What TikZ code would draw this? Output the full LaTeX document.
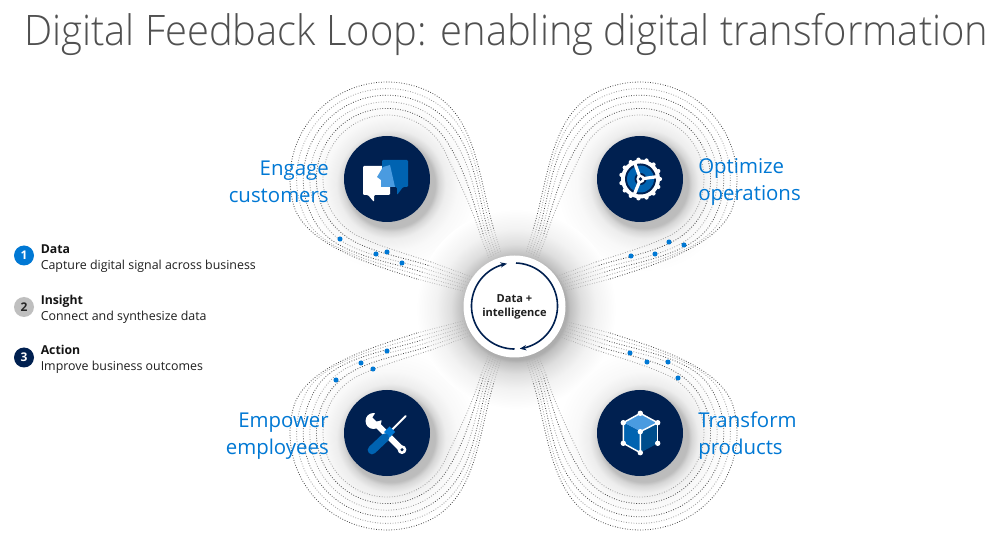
\documentclass[tikz,border=0pt]{standalone}
\usepackage{fontspec}
\setmainfont{Open Sans}
\newfontfamily\titlefont{Open Sans Light}
\usetikzlibrary{arrows.meta}
\definecolor{navy}{HTML}{002050}
\definecolor{azure}{HTML}{0078D4}
\definecolor{midblue}{HTML}{0063B1}
\definecolor{lightblue}{HTML}{4A9BE0}
\definecolor{deepblue}{HTML}{004E8C}
\definecolor{titlegray}{HTML}{505050}
\pgfdeclareradialshading{iconglow}{\pgfpoint{0bp}{0bp}}{rgb(0bp)=(.7,.7,.7);rgb(12.5bp)=(.74,.74,.74);rgb(13.6bp)=(.84,.84,.84);rgb(15.5bp)=(.93,.93,.93);rgb(19bp)=(.975,.975,.975);rgb(25bp)=(1,1,1);rgb(50bp)=(1,1,1)}
\pgfdeclareradialshading{hubglow}{\pgfpoint{0bp}{0bp}}{rgb(0bp)=(.6,.6,.6);rgb(12.75bp)=(.68,.68,.68);rgb(13.5bp)=(.75,.75,.75);rgb(16.25bp)=(.87,.87,.87);rgb(20bp)=(.95,.95,.95);rgb(25bp)=(1,1,1);rgb(50bp)=(1,1,1)}
\tikzset{
  dotdark/.style={draw=black!72,line width=.6pt,dash pattern=on .6pt off 1.3pt},
  dotlight/.style={draw=black!40,line width=.6pt,dash pattern=on .6pt off 1.3pt},
  dotfade/.style={draw=black!30,line width=.6pt,dash pattern=on .6pt off 1.2pt},
  signal/.style={circle,fill=azure,inner sep=0pt,minimum size=3.8pt},
  iconball/.style={circle,fill=navy,inner sep=0pt,minimum size=64.5pt},
  bigword/.style={text=azure,font=\fontsize{15.3pt}{20.2pt}\selectfont,inner sep=0pt},
  badge/.style={circle,inner sep=0pt,minimum size=15pt,font=\fontsize{9pt}{9pt}\selectfont\bfseries},
  legendtext/.style={anchor=west,inner sep=0pt,text=black!88,font=\fontsize{9.3pt}{10pt}\selectfont},
  legendhead/.style={anchor=west,inner sep=0pt,text=black!92,font=\fontsize{9.2pt}{10pt}\selectfont\bfseries},
}
\newcommand\bandloop{%
  \foreach \k in {0,...,5} {%
    \pgfmathsetmacro\kt{\k/5}
    \pgfmathsetmacro\rr{64+33*\kt}
    \pgfmathsetmacro\ta{115+50*\kt}
    \pgfmathsetmacro\tb{335-40*\kt}
    \pgfmathsetmacro\ax{387+\rr*cos(\ta)}
    \pgfmathsetmacro\ay{179+\rr*sin(\ta)}
    \pgfmathsetmacro\mx{431-14*\kt}
    \pgfmathsetmacro\my{262+17*\kt}
    \pgfmathsetmacro\fx{472-9*\kt}
    \pgfmathsetmacro\fy{277+14*\kt}
    \pgfmathsetmacro\la{.3*veclen(\mx-\ax,\my-\ay)}
    \pgfmathsetmacro\cax{\mx-.95*\la}
    \pgfmathsetmacro\cay{\my-.31*\la}
    \pgfmathsetmacro\cbx{\ax+sin(\ta)*\la}
    \pgfmathsetmacro\cby{\ay-cos(\ta)*\la}
    \pgfmathsetmacro\bx{387+\rr*cos(\tb)}
    \pgfmathsetmacro\by{179+\rr*sin(\tb)}
    \pgfmathsetmacro\nx{481+13*\kt}
    \pgfmathsetmacro\ny{237-7*\kt}
    \pgfmathsetmacro\gx{489+12*\kt}
    \pgfmathsetmacro\gy{258-5*\kt}
    \pgfmathsetmacro\lb{.35*veclen(\nx-\bx,\ny-\by)}
    \pgfmathsetmacro\ccx{\bx-sin(\tb)*\lb}
    \pgfmathsetmacro\ccy{\by+cos(\tb)*\lb}
    \pgfmathsetmacro\cdx{\nx-.29*\lb}
    \pgfmathsetmacro\cdy{\ny-.957*\lb}
    \pgfmathtruncatemacro\odd{mod(\k,2)}
    \ifnum\odd=1 \def\dotstyle{dotdark}\else\def\dotstyle{dotlight}\fi
    \draw[\dotstyle] (\mx,\my) .. controls (\cax,\cay) and (\cbx,\cby) .. (\ax,\ay)
      -- plot[domain=\ta:\tb,samples=50] ({387+\rr*cos(\x)},{179+\rr*sin(\x)})
      .. controls (\ccx,\ccy) and (\cdx,\cdy) .. (\nx,\ny);
    \draw[dotfade] (\fx,\fy) -- (\mx,\my);
    \draw[dotfade] (\nx,\ny) -- (\gx,\gy);
  }%
}
\begin{document}
\begin{tikzpicture}[x=.75pt,y=-.75pt]
\useasboundingbox (0,0) rectangle (1003,541);
\fill[white] (0,0) rectangle (1003,541);
% soft shadows
\shade[shading=iconglow] (391,184) circle[radius=88];
\shade[shading=iconglow] (644,184) circle[radius=88];
\shade[shading=iconglow] (391,438) circle[radius=88];
\shade[shading=iconglow] (644,438) circle[radius=88];
\shade[shading=hubglow] (516,309) circle[radius=100];
% dotted loops
\begin{scope}\bandloop\end{scope}
\begin{scope}[shift={(1027,0)},xscale=-1]\bandloop\end{scope}
\begin{scope}[shift={(0,612)},yscale=-1]\bandloop\end{scope}
\begin{scope}[shift={(1027,612)},xscale=-1,yscale=-1]\bandloop\end{scope}
% signals
\foreach \p [count=\i] in {(340,239),(376,254),(387,252),(402,263),(631,256),(655,254),(669,242),(684,245),(336,380),(361,363),(373,369),(387,351),(630,353),(647,362),(668,362),(678,378)}
  \node[signal] (sig\i) at \p {};
% title
\node[anchor=base west,inner sep=0pt,text=titlegray] (title) at (24,46)
  {\titlefont\fontsize{31.5pt}{36pt}\selectfont\resizebox{723pt}{\height}{Digital Feedback Loop: enabling digital transformation}};
% icon balls
\node[iconball] (engage) at (387,179) {};
\node[iconball] (optimize) at (640,179) {};
\node[iconball] (empower) at (387,433) {};
\node[iconball] (transform) at (640,433) {};
% labels
\node[bigword,anchor=east,align=right] (engagetxt) at (329,182) {Engage\\customers};
\node[bigword,anchor=west,align=left] (optimizetxt) at (698,182) {Optimize\\operations};
\node[bigword,anchor=east,align=right] (empowertxt) at (329,436) {Empower\\employees};
\node[bigword,anchor=west,align=left] (transformtxt) at (698,436) {Transform\\products};
% engage icon
\fill[white,rounded corners=.8pt] (363,166)--(390,166)--(390,195)--(374,195)--(374,202)--(368,195)--(363,195)--cycle;
\fill[midblue,rounded corners=.8pt] (382,160)--(408,160)--(408,187)--(403,187)--(397,195)--(397,187)--(382,187)--cycle;
\fill[lightblue] (390,165)--(383,167)--(377,177)--(381,180)--(381,187)--(395,187)--cycle;
% gear icon
\fill[white] (640.5,179) circle[radius=19.5];
\foreach \a in {0,24,...,336} \fill[white] ({640.5+19.5*cos(\a)},{179+19.5*sin(\a)}) circle[radius=2.1];
\fill[navy] (640.5,179) circle[radius=15.5];
\fill[midblue] (640.5,179) circle[radius=13.5];
\fill[navy] (640.5,179) circle[radius=6];
\foreach \a in {250,352,112} \draw[white,line width=2.4pt] (640.5,179) -- ({640.5+16*cos(\a)},{179+16*sin(\a)});
\fill[white] (640.5,179) circle[radius=4.2];
\fill[navy] (640.5,179) circle[radius=1.8];
% tools icon
\draw[white,line width=4.5pt] (373.5,421) -- (402,449.7);
\fill[white] (373.5,421) circle[radius=8];
\fill[navy] (376,412) -- (382,412) -- (382,420) -- (376.5,421.5) -- (372.5,417.5) -- cycle;
\fill[white] (402,449.7) circle[radius=4.4];
\fill[navy] (402,449.7) circle[radius=1.7];
\draw[white,line width=1.5pt,line cap=round] (405.7,416) -- (390,431.7);
\fill[azure] (389.5,426.5) -- (395,432) -- (389.5,437.5) -- (384,432) -- cycle;
\draw[midblue,line width=6.5pt,line cap=round] (385,437.7) -- (372,450);
% cube icon
\fill[lightblue] (640.3,413.3)--(657.7,422.7)--(640.3,431.7)--(623.3,422.7)--cycle;
\fill[midblue] (623.3,422.7)--(640.3,431.7)--(640.3,452.7)--(623.3,443.3)--cycle;
\fill[deepblue] (657.7,422.7)--(640.3,431.7)--(640.3,452.7)--(657.7,443.3)--cycle;
\draw[white,line width=1.1pt] (623.3,443.3)--(623.3,422.7)--(640.3,413.3)--(657.7,422.7)--(640.3,431.7)--(640.3,452.7)--(623.3,443.3);
\draw[white,line width=.4pt] (657.7,422.7)--(657.7,443.3);
\foreach \p in {(640.3,413.3),(623.3,422.7),(657.7,422.7),(640.3,431.7),(623.3,443.3),(657.7,443.3),(640.3,452.7)}
  \fill[white] \p circle[radius=2.7];
% hub
\node[circle,fill=white,inner sep=0pt,minimum size=76.5pt,align=center,text=black!88,font=\fontsize{8.3pt}{10.5pt}\selectfont\bfseries] (hub) at (514.5,306.5) {Data +\\intelligence};
\draw[navy,line width=1.2pt,-{Stealth[length=5pt,width=4pt]}] plot[domain=90:260,samples=60] ({514.5+43*cos(\x)},{306+43*sin(\x)});
\draw[navy,line width=1.2pt,-{Stealth[length=5pt,width=4pt]}] plot[domain=-88:83,samples=60] ({514.5+43*cos(\x)},{306+43*sin(\x)});
% legend
\node[badge,fill=azure,text=white] (b1) at (24,255.5) {1};
\node[badge,fill=black!25,text=black!85] (b2) at (24,307) {2};
\node[badge,fill=navy,text=white] (b3) at (24,357.5) {3};
\node[legendhead] (h1) at (40.5,249) {Data};
\node[legendtext] (t1) at (40.5,266) {Capture digital signal across business};
\node[legendhead] (h2) at (40.5,301) {Insight};
\node[legendtext] (t2) at (40.5,317.5) {Connect and synthesize data};
\node[legendhead] (h3) at (40.5,350) {Action};
\node[legendtext] (t3) at (40.5,367) {Improve business outcomes};
\end{tikzpicture}
\end{document}
